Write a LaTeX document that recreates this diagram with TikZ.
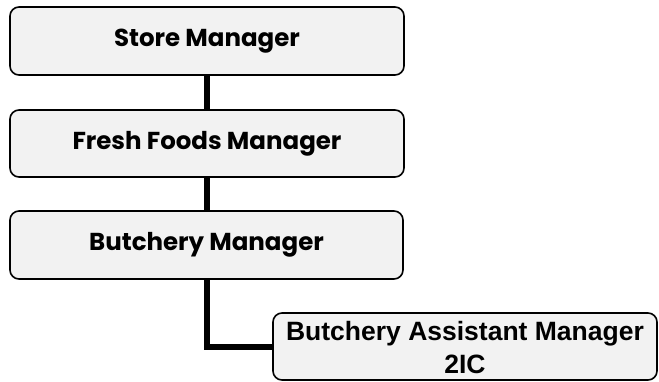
\documentclass[tikz,border=0pt]{standalone}
\usepackage{fontspec}
\setmainfont{Poppins}
\newfontfamily\arialfont{Liberation Sans}
\begin{document}
\begin{tikzpicture}[x=1pt,y=1pt,
  box/.style={draw=black, line width=1.6pt, fill=black!5, rounded corners=9pt, inner sep=0pt, align=center},
  gothic/.style={font=\fontsize{24.5}{29}\selectfont\bfseries},
  link/.style={line width=6pt}]
\useasboundingbox (0,0) rectangle (659,-381);
\node[box, gothic, minimum width=394pt, minimum height=68pt] (sm) at (207,-41) {Store Manager};
\node[box, gothic, minimum width=394pt, minimum height=67pt] (ff) at (207,-143.5) {Fresh Foods Manager};
\node[box, gothic, minimum width=393pt, minimum height=68pt] (bm) at (206.5,-245) {Butchery Manager};
\node[box, minimum width=384pt, minimum height=67pt,
  label={[font=\arialfont\fontsize{26.5}{33}\selectfont\bfseries, align=center, yshift=-1.5pt]center:{Butchery Assistant Manager\\2IC}}] (bam) at (465,-346.5) {};
\draw[link] (sm.south -| 207,0) -- (ff.north -| 207,0);
\draw[link] (ff.south -| 207,0) -- (bm.north -| 207,0);
\coordinate (corner) at (207,-347);
\draw[link] (bm.south -| corner) -- ([yshift=-3pt]corner) ;
\draw[link] ([xshift=-3pt]corner) -- (bam.west |- corner);
\end{tikzpicture}
\end{document}
